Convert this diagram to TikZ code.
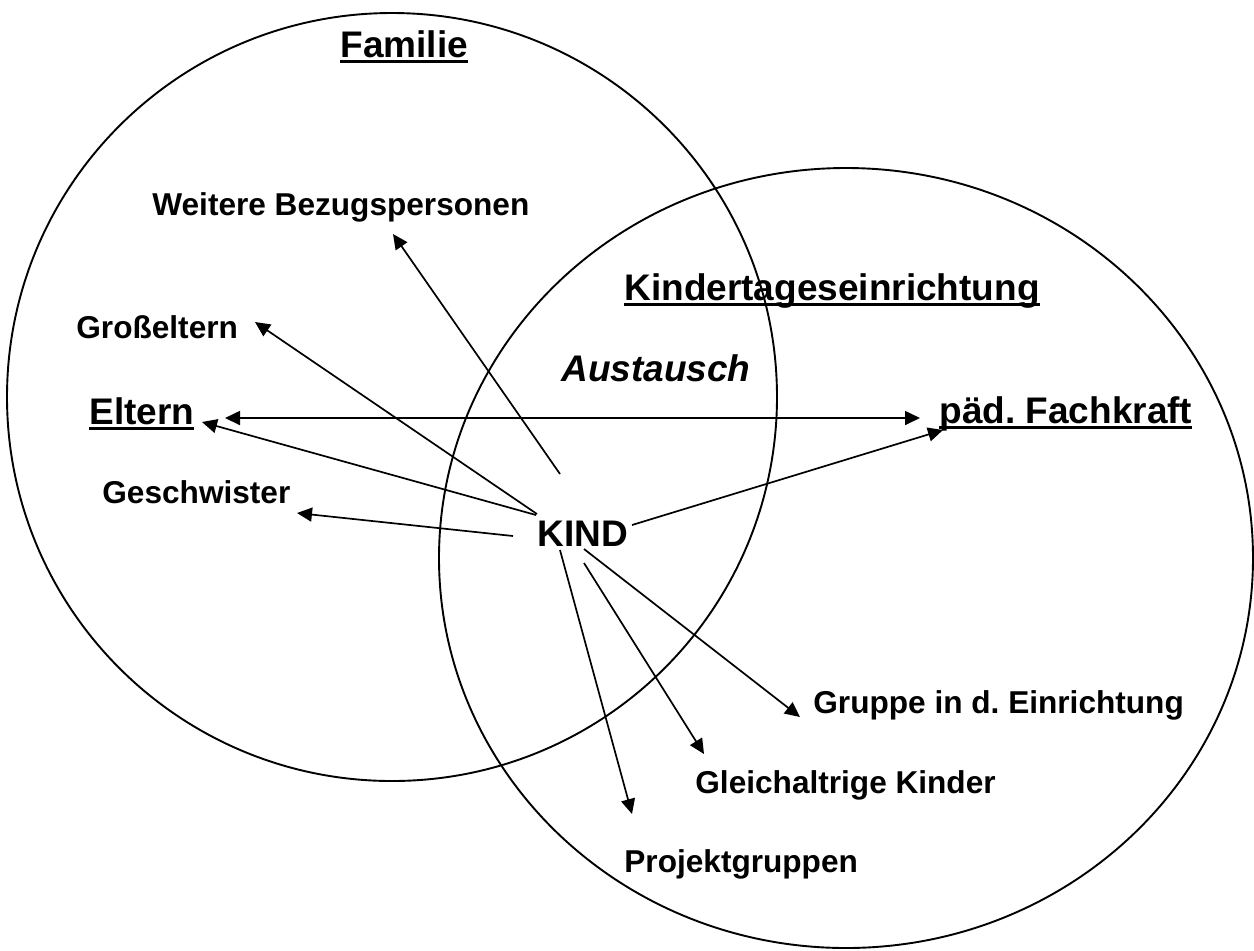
\documentclass[tikz,border=0pt]{standalone}
\usepackage{fontspec}
\setmainfont{Liberation Sans}
\usetikzlibrary{arrows.meta}
\frenchspacing
\newcommand\ulbox[1]{\setbox0\hbox{#1}\rlap{\rule[-3pt]{\wd0}{1.7pt}}\box0}
\tikzset{
  ring/.style={draw, line width=0.95pt},
  small/.style={inner sep=0pt, anchor=base west, font=\bfseries\fontsize{15.8pt}{18pt}\selectfont},
  big/.style={inner sep=0pt, anchor=base west, font=\bfseries\fontsize{18.5pt}{21pt}\selectfont},
  arr/.style={line width=0.85pt, -{Triangle[length=7.5pt,width=7pt]}},
  darr/.style={line width=0.85pt, {Triangle[length=7.5pt,width=7pt]}-{Triangle[length=7.5pt,width=7pt]}}
}
\begin{document}
\begin{tikzpicture}[x=0.5pt,y=-0.5pt]
\useasboundingbox (0,0) rectangle (1254,950);
% circles
\draw[ring] (392,397) ellipse [x radius=192.5pt, y radius=192pt];
\draw[ring] (846,558) ellipse [x radius=203.5pt, y radius=195pt];
% labels
\node[big] (familie) at (340,57) {\ulbox{Familie}};
\node[small] (weitere) at (152,215) {Weitere Bezugspersonen};
\node[big] (kita) at (624,300) {\ulbox{Kindertageseinrichtung}};
\node[small] (grosseltern) at (76,338) {Großeltern};
\node[big, font=\bfseries\itshape\fontsize{18.5pt}{21pt}\selectfont] (austausch) at (561,381) {Austausch};
\node[big] (eltern) at (89,424) {\ulbox{Eltern}};
\node[big] (fachkraft) at (939,423) {\ulbox{päd. Fachkraft}};
\node[small] (geschwister) at (102,503) {Geschwister};
\node[big] (kind) at (537,546) {KIND};
\node[small] (gruppe) at (813,713) {Gruppe in d. Einrichtung};
\node[small] (gleich) at (695,793) {Gleichaltrige Kinder};
\node[small] (projekt) at (624,872) {Projektgruppen};
% arrow end points
\coordinate (sW) at (560,474);   \coordinate (tW) at (393,234);
\coordinate (sG) at (537,514);   \coordinate (tG) at (255,322);
\coordinate (tEl) at (225,418);  \coordinate (tFa) at (920,418);
\coordinate (sE) at (536,515);   \coordinate (tE) at (202,422);
\coordinate (sS) at (513,536);   \coordinate (tS) at (297,513);
\coordinate (sF) at (632,525);   \coordinate (tF) at (943,430);
\coordinate (sR) at (584,549);   \coordinate (tR) at (800,717);
\coordinate (sK) at (584,563);   \coordinate (tK) at (704,754);
\coordinate (sP) at (560,550);   \coordinate (tP) at (632,814);
% arrows
\draw[arr] (sW) -- (tW);
\draw[arr] (sG) -- (tG);
\draw[darr] (tEl) -- (tFa);
\draw[arr] (sE) -- (tE);
\draw[arr] (sS) -- (tS);
\draw[arr] (sF) -- (tF);
\draw[arr] (sR) -- (tR);
\draw[arr] (sK) -- (tK);
\draw[arr] (sP) -- (tP);
\end{tikzpicture}
\end{document}
